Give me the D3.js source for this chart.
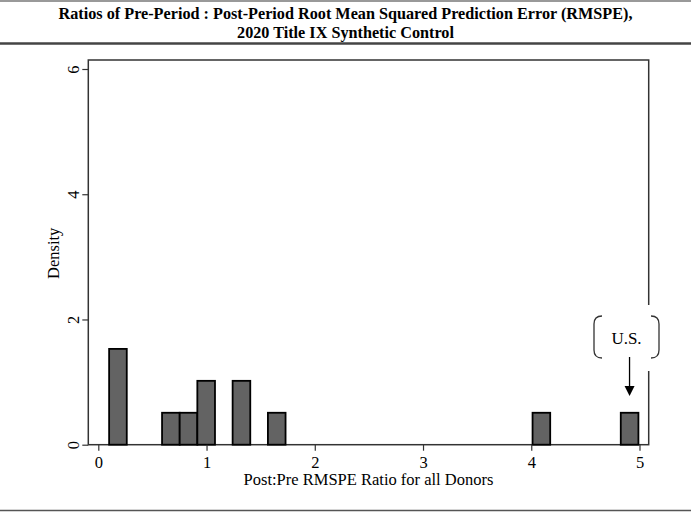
<!DOCTYPE html>
<html><head><meta charset="utf-8">
<script src="https://cdn.jsdelivr.net/npm/d3@7"></script>
<style>body{margin:0;background:#fff}svg{display:block}</style>
</head><body>
<script>
// Data
const binStarts = [0.100, 0.589, 0.752, 0.915, 1.241, 1.567, 4.012, 4.827];
const binWidth = 0.163;
const densities = [1.53, 0.51, 0.51, 1.02, 1.02, 0.51, 0.51, 0.51];
const xTicks = [0, 1, 2, 3, 4, 5];
const yTicks = [0, 2, 4, 6];
const titleLines = ["Ratios of Pre-Period : Post-Period Root Mean Squared Prediction Error (RMSPE),", "2020 Title IX Synthetic Control"];
const xLabel = "Post:Pre RMSPE Ratio for all Donors";
const yLabel = "Density";
const usLabel = "U.S.";
const usValue = 4.908;

const W = 691, H = 513;
const svg = d3.select("body").append("svg").attr("width", W).attr("height", H);
const font = "'Liberation Serif','Times New Roman',serif";
const fs = 16.5;

// page rules
svg.append("line").attr("x1",0).attr("x2",W).attr("y1",1).attr("y2",1).attr("stroke","#777").attr("stroke-width",1.5);
svg.append("line").attr("x1",0).attr("x2",W).attr("y1",43.5).attr("y2",43.5).attr("stroke","#444").attr("stroke-width",2.5);
svg.append("line").attr("x1",0).attr("x2",W).attr("y1",510.5).attr("y2",510.5).attr("stroke","#555").attr("stroke-width",1.5);

// title
titleLines.forEach((t,i)=>{
  svg.append("text").attr("transform",`translate(345.5,${19+i*19}) scale(1,1.08)`).attr("text-anchor","middle")
    .attr("font-family",font).attr("font-weight","bold").attr("font-size",16.2).attr("fill","#000").text(t);
});

const frame = {l:88.3, r:648.7, t:60, b:444.7};
const x = d3.scaleLinear().domain([0,5]).range([98.3, 639.5]);
const y = d3.scaleLinear().domain([0,6]).range([444.7, 69]);

// frame
svg.append("rect").attr("x",frame.l).attr("y",frame.t).attr("width",frame.r-frame.l).attr("height",frame.b-frame.t)
  .attr("fill","none").attr("stroke","#333").attr("stroke-width",1.5);

// bars
svg.append("g").selectAll("rect").data(binStarts).join("rect")
  .attr("x", d=>x(d)).attr("width", d=>x(d+binWidth)-x(d))
  .attr("y", (d,i)=>y(densities[i])).attr("height",(d,i)=>y(0)-y(densities[i]))
  .attr("fill","#636363").attr("stroke","#000").attr("stroke-width",1.8);

// axes
const gx = svg.append("g").attr("transform",`translate(0,${frame.b})`)
  .call(d3.axisBottom(x).tickValues(xTicks).tickSize(6).tickFormat(d3.format("d")));
const gy = svg.append("g").attr("transform",`translate(${frame.l},0)`)
  .call(d3.axisLeft(y).tickValues(yTicks).tickSize(6).tickFormat(d3.format("d")));
[gx,gy].forEach(g=>{
  g.select(".domain").remove();
  g.selectAll("line").attr("stroke","#333").attr("stroke-width",1.2);
  g.selectAll("text").attr("font-family",font).attr("font-size",fs).attr("fill","#000");
});
gx.selectAll(".tick text").attr("dy",null).attr("y",23);
gy.selectAll(".tick text").attr("text-anchor","middle").attr("dy",null)
  .attr("transform","translate(-13,0) rotate(-90)").attr("x",0).attr("y",0).attr("dominant-baseline","middle");

svg.append("text").attr("x",(frame.l+frame.r)/2).attr("y",485).attr("text-anchor","middle")
  .attr("font-family",font).attr("font-size",fs).text(xLabel);
svg.append("text").attr("transform",`translate(59,${(frame.t+frame.b)/2+1}) rotate(-90)`).attr("text-anchor","middle")
  .attr("font-family",font).attr("font-size",fs).text(yLabel);

// U.S. annotation
const ax = x(usValue);
svg.append("rect").attr("x",ax-40).attr("y",305).attr("width",75).attr("height",66).attr("fill","#fff");
const bx0 = 594, bx1 = 659, by0 = 316, by1 = 358, rr = 6;
svg.append("path").attr("d",`M${bx0+rr+2},${by0} Q${bx0},${by0} ${bx0},${by0+rr+2} L${bx0},${by1-rr-2} Q${bx0},${by1} ${bx0+rr+2},${by1}`)
  .attr("fill","none").attr("stroke","#333").attr("stroke-width",1.3);
svg.append("path").attr("d",`M${bx1-rr-2},${by0} Q${bx1},${by0} ${bx1},${by0+rr+2} L${bx1},${by1-rr-2} Q${bx1},${by1} ${bx1-rr-2},${by1}`)
  .attr("fill","none").attr("stroke","#333").attr("stroke-width",1.3);
svg.append("text").attr("x",(bx0+bx1)/2).attr("y",344).attr("text-anchor","middle")
  .attr("font-family",font).attr("font-size",fs+0.5).text(usLabel);
svg.append("line").attr("x1",ax).attr("x2",ax).attr("y1",357).attr("y2",388).attr("stroke","#000").attr("stroke-width",1.3);
svg.append("path").attr("d",`M${ax-5},${386} L${ax+5},${386} L${ax},${396} Z`).attr("fill","#000");
</script>
</body></html>
